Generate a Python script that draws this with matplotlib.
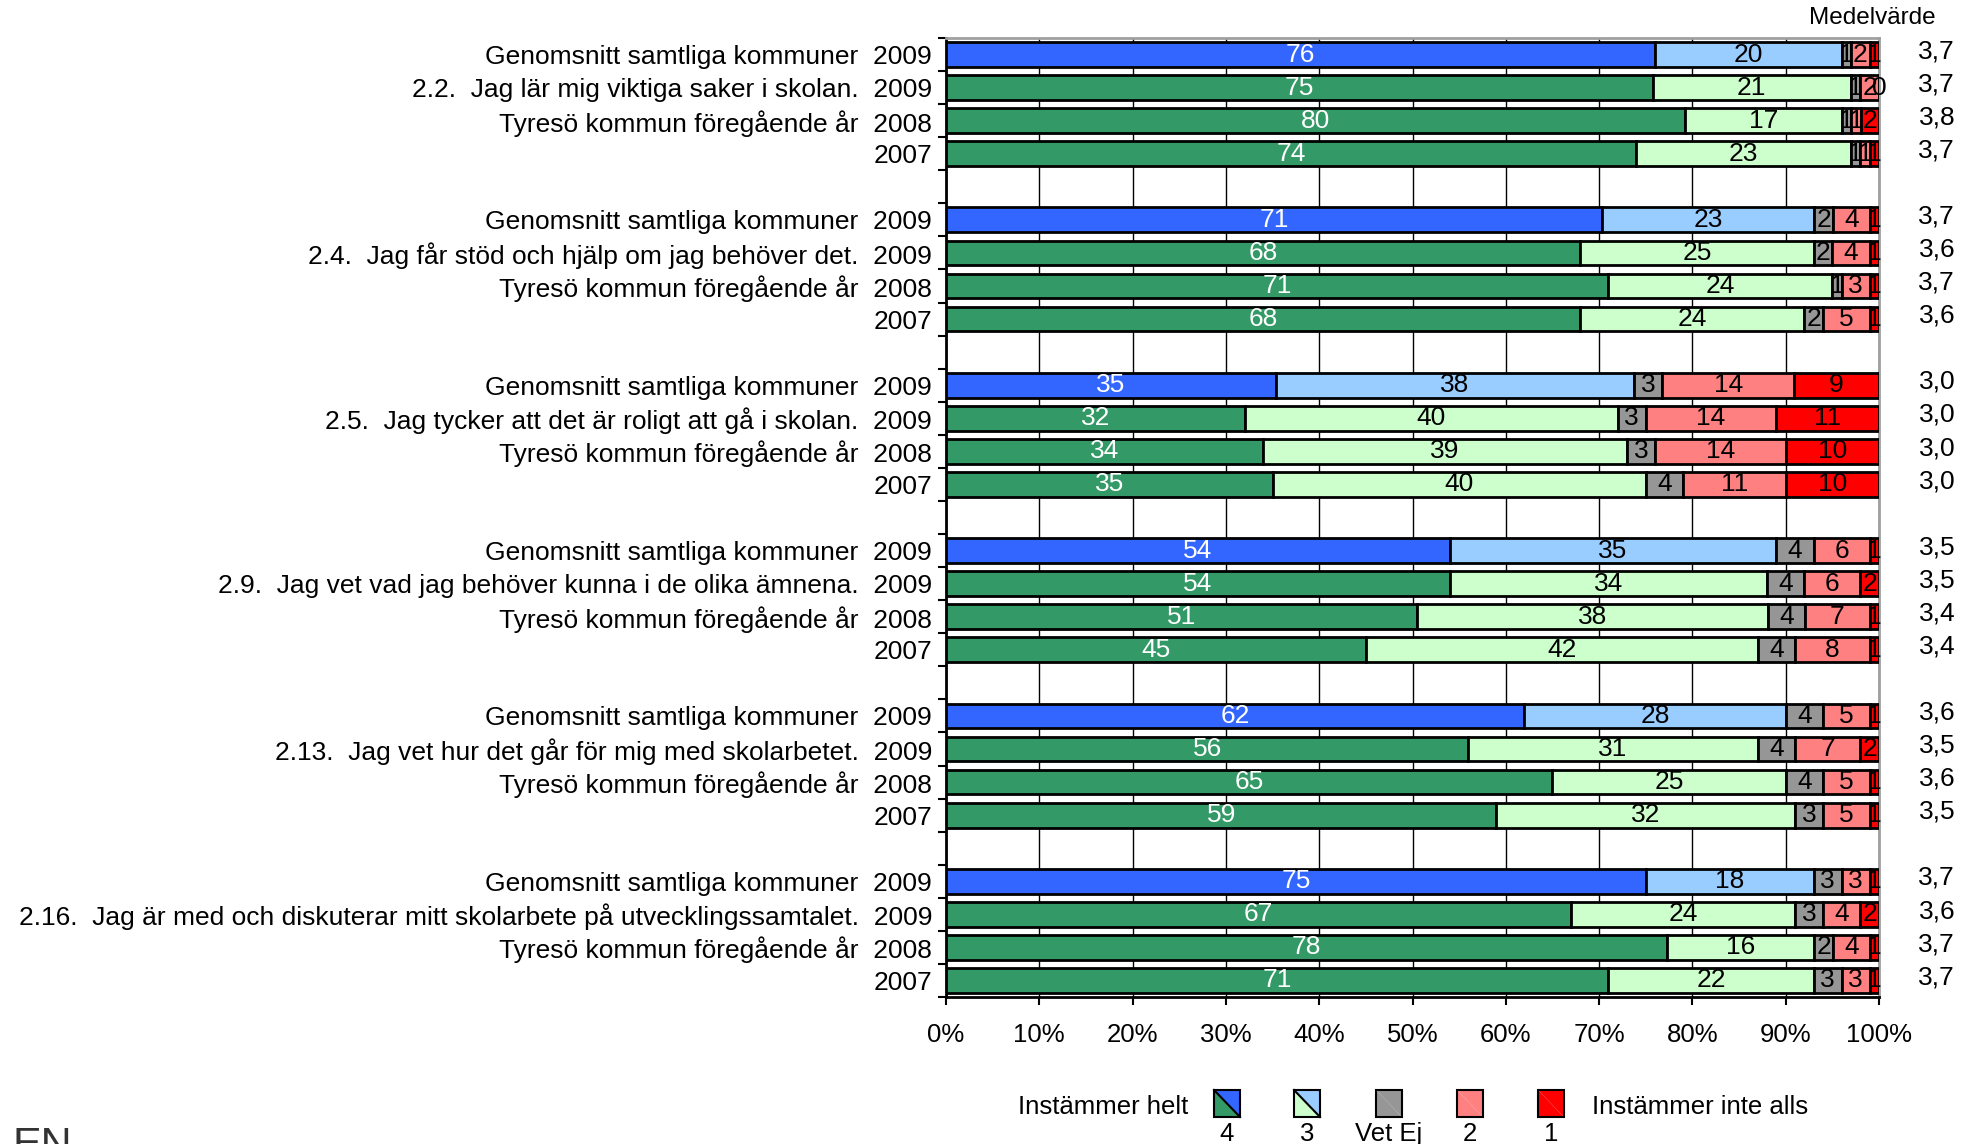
import numpy as np
import matplotlib.pyplot as plt
from matplotlib.patches import Rectangle, Polygon
from matplotlib.transforms import blended_transform_factory

plt.rcParams['font.family'] = ['Liberation Sans', 'DejaVu Sans']

questions = [
    "2.2.  Jag lär mig viktiga saker i skolan.",
    "2.4.  Jag får stöd och hjälp om jag behöver det.",
    "2.5.  Jag tycker att det är roligt att gå i skolan.",
    "2.9.  Jag vet vad jag behöver kunna i de olika ämnena.",
    "2.13.  Jag vet hur det går för mig med skolarbetet.",
    "2.16.  Jag är med och diskuterar mitt skolarbete på utvecklingssamtalet.",
]
row_years = ["2009", "2009", "2008", "2007"]

# per row, 6 groups x (Genomsnitt 2009, Tyresö 2009, 2008, 2007)
v4 = [76, 75, 80, 74,  71, 68, 71, 68,  35, 32, 34, 35,  54, 54, 51, 45,  62, 56, 65, 59,  75, 67, 78, 71]
v3 = [20, 21, 17, 23,  23, 25, 24, 24,  38, 40, 39, 40,  35, 34, 38, 42,  28, 31, 25, 32,  18, 24, 16, 22]
vet_ej = [1, 1, 1, 1,  2, 2, 1, 2,  3, 3, 3, 4,  4, 4, 4, 4,  4, 4, 4, 3,  3, 3, 2, 3]
v2 = [2, 2, 1, 1,  4, 4, 3, 5,  14, 14, 14, 11,  6, 6, 7, 8,  5, 7, 5, 5,  3, 4, 4, 3]
v1 = [1, 0, 2, 1,  1, 1, 1, 1,  9, 11, 10, 10,  1, 2, 1, 1,  1, 2, 1, 1,  1, 2, 1, 1]
medel = ["3,7", "3,7", "3,8", "3,7",  "3,7", "3,6", "3,7", "3,6",  "3,0", "3,0", "3,0", "3,0",
         "3,5", "3,5", "3,4", "3,4",  "3,6", "3,5", "3,6", "3,5",  "3,7", "3,6", "3,7", "3,7"]

blue, lblue = '#3366FF', '#99CCFF'
green, lgreen = '#339966', '#CCFFCC'
grey, pink, red = '#969696', '#FF8080', '#FF0000'

W, H = 1973, 1144
fig = plt.figure(figsize=(W / 100, H / 100), dpi=100)
ax = fig.add_axes([946 / W, 1 - 997 / H, (1879 - 946) / W, (997 - 38) / H])

FS = 19
data = np.array([v4, v3, vet_ej, v2, v1], dtype=float)
pos = []
labels = []
for i in range(24):
    g, k = divmod(i, 4)
    y = g * 5 + k
    pos.append(y)
    if k == 0:
        labels.append("Genomsnitt samtliga kommuner  " + row_years[k])
    elif k == 1:
        labels.append(questions[g] + "  " + row_years[k])
    elif k == 2:
        labels.append("Tyresö kommun föregående år  " + row_years[k])
    else:
        labels.append(row_years[k])

    vals = data[:, i]
    widths = vals / vals.sum() * 100
    cols = [blue, lblue, grey, pink, red] if k == 0 else [green, lgreen, grey, pink, red]
    left = 0
    for j in range(5):
        ax.barh(y, widths[j], left=left, height=0.75, color=cols[j],
                edgecolor='black', linewidth=2, zorder=3)
        tc = 'white' if j == 0 else 'black'
        ax.text(left + widths[j] / 2, y, str(int(vals[j])), ha='center', va='center',
                fontsize=FS, color=tc, zorder=4)
        left += widths[j]

    ax.text(1.062, y - 0.1, medel[i], transform=blended_transform_factory(ax.transAxes, ax.transData),
            ha='center', va='center', fontsize=FS)

ax.set_xlim(0, 100)
ax.set_ylim(28.5, -0.5)
ax.set_xticks(np.arange(0, 101, 10))
ax.set_xticklabels([f"{t}%" for t in range(0, 101, 10)], fontsize=18.5)
ax.set_yticks(pos)
ax.set_yticklabels(labels, fontsize=FS)
ax.set_yticks(np.arange(-0.5, 29, 1), minor=True)
ax.tick_params(axis='y', which='major', length=0, pad=10)
ax.tick_params(axis='y', which='minor', length=6, width=1.5, direction='out')
ax.tick_params(axis='x', length=6, width=1.5, pad=13)
ax.grid(axis='x', color='black', linewidth=1, zorder=0)
ax.set_axisbelow(True)
for s in ['top', 'right']:
    ax.spines[s].set_color('#A0A0A0')
    ax.spines[s].set_linewidth(2)
ax.spines['left'].set_linewidth(2)
ax.spines['bottom'].set_linewidth(2)

# overlay in pixel coordinates for header, legend and footer
ov = fig.add_axes([0, 0, 1, 1], zorder=-1)
ov.set_xlim(0, W)
ov.set_ylim(H, 0)
ov.axis('off')

ov.text(1872, 18, "Medelvärde", ha='center', va='center', fontsize=17.5)

ov.text(1188, 1107, "Instämmer helt", ha='right', va='center', fontsize=18.5)
ov.text(1592, 1107, "Instämmer inte alls", ha='left', va='center', fontsize=18.5)
leg_x = [1227, 1307, 1389, 1470, 1551]
leg_lab = ["4", "3", "Vet Ej", "2", "1"]
leg_cols = [(blue, green), (lblue, lgreen), (grey, grey), (pink, pink), (red, red)]
for x, lab, (c_up, c_lo) in zip(leg_x, leg_lab, leg_cols):
    x0, x1, y0, y1 = x - 13, x + 13, 1090, 1117
    ov.add_patch(Polygon([(x0, y0), (x1, y0), (x1, y1)], closed=True, facecolor=c_up, edgecolor='none'))
    ov.add_patch(Polygon([(x0, y0), (x0, y1), (x1, y1)], closed=True, facecolor=c_lo, edgecolor='none'))
    if c_up != c_lo:
        ov.plot([x0, x1], [y0, y1], color='black', linewidth=1.5)
    ov.add_patch(Rectangle((x0, y0), 26, 27, facecolor='none', edgecolor='black', linewidth=1.5))
    ov.text(x, 1134, lab, ha='center', va='center', fontsize=18.5)

ov.text(12, 1126, "EN", ha='left', va='top', fontsize=31, fontweight='light', color='#333333')

fig.savefig("out.png", dpi=100)
